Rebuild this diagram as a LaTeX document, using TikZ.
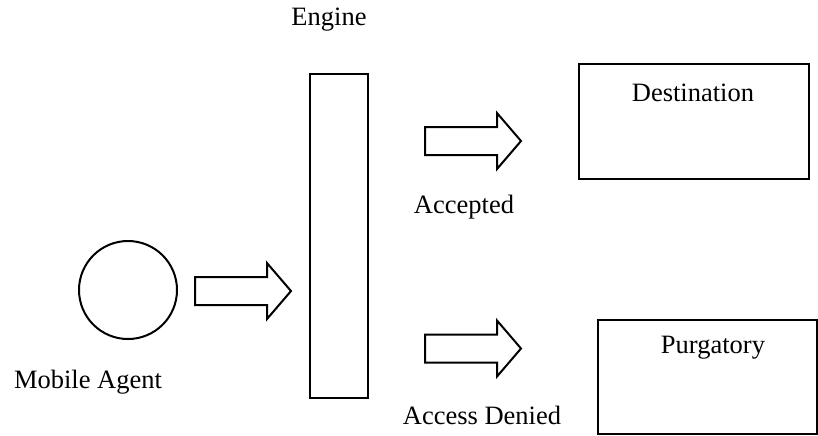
\documentclass[tikz,border=0pt]{standalone}
\usepackage{fontspec}
\setmainfont{Liberation Serif}
\begin{document}
\begin{tikzpicture}[x=0.5pt,y=-0.5pt,line width=1pt,
  lbl/.style={inner sep=0pt,font=\fontsize{13.25}{16}\selectfont},
  box/.style={draw,inner sep=0pt},
  blockarrow/.style={draw,line join=miter}]
\useasboundingbox (0,0) rectangle (818,435);
% agent
\node[draw,circle,minimum size=49pt,inner sep=0pt] (agent) at (128,290) {};
\node[lbl] (agentlbl) at (88,382) {Mobile Agent};
% engine
\draw (310,74) rectangle (368,398);
\node[lbl] (enginelbl) at (329,20) {Engine};
% destination
\draw (579,64) rectangle (809,179);
\node[lbl] (dest) at (693,93) {Destination};
% purgatory
\draw (598,320) rectangle (817,434);
\node[lbl] (purg) at (713,348) {Purgatory};
% block arrows
\newcommand{\blockarr}[2]{%
  \draw[blockarrow] (#1,#2-14) -- (#1+72,#2-14) -- (#1+72,#2-28) -- (#1+96,#2) -- (#1+72,#2+28) -- (#1+72,#2+14) -- (#1,#2+14) -- cycle;}
\blockarr{195}{291}
\blockarr{425}{141}
\blockarr{425}{348.5}
\node[lbl] (acc) at (464,207) {Accepted};
\node[lbl] (den) at (482,415) {Access Denied};
\end{tikzpicture}
\end{document}
